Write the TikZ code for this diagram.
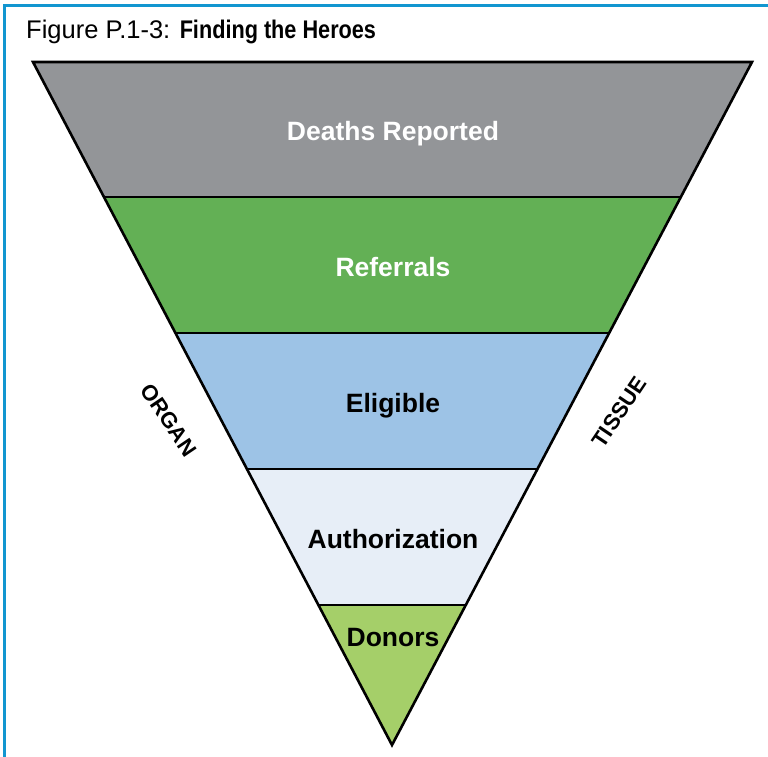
\documentclass[tikz,border=0pt]{standalone}
\usepackage{fontspec}
\setmainfont{Liberation Sans}
\usetikzlibrary{calc}
\definecolor{frameblue}{RGB}{18,150,208}
\definecolor{bandgray}{RGB}{147,149,152}
\definecolor{bandgreen}{RGB}{99,176,85}
\definecolor{bandblue}{RGB}{157,195,230}
\definecolor{bandpale}{RGB}{231,238,247}
\definecolor{bandlime}{RGB}{165,207,105}
\tikzset{
  bandlabel/.style={font=\fontsize{26.5}{30}\selectfont\bfseries, inner sep=0pt, anchor=base},
  sidelabel/.style={font=\fontsize{22}{24}\selectfont\bfseries, inner sep=0pt},
  bandline/.style={draw=black, line width=2pt},
}
\begin{document}
\begin{tikzpicture}[x=1pt,y=-1pt]
\useasboundingbox (0,0) rectangle (768,757);
% frame
\draw[frameblue, line width=3pt] (4.5,757) -- (4.5,5.5) -- (768,5.5);
% title
\node[anchor=base west, inner sep=0pt, font=\fontsize{25.5}{28}\selectfont] (title) at (26,38.5)
  {Figure P.1-3: \textbf{\scalebox{0.85}[1]{Finding the Heroes}}};
% triangle geometry
\coordinate (L0) at (33,62);
\coordinate (R0) at (752,62);
\coordinate (A) at (392,745);
\foreach \i/\t in {1/0.1977,2/0.3968,3/0.5959,4/0.7950}{
  \coordinate (L\i) at ($(L0)!\t!(A)$);
  \coordinate (R\i) at ($(R0)!\t!(A)$);
}
\fill[bandgray] (L0) -- (R0) -- (R1) -- (L1) -- cycle;
\fill[bandgreen] (L1) -- (R1) -- (R2) -- (L2) -- cycle;
\fill[bandblue] (L2) -- (R2) -- (R3) -- (L3) -- cycle;
\fill[bandpale] (L3) -- (R3) -- (R4) -- (L4) -- cycle;
\fill[bandlime] (L4) -- (R4) -- (A) -- cycle;
\foreach \i in {1,2,3,4}{ \draw[bandline] (L\i) -- (R\i); }
\draw[black, line width=2.6pt, line join=miter] (L0) -- (R0) -- (A) -- cycle;
% labels
\node[bandlabel, text=white] (deaths) at (393,140) {Deaths Reported};
\node[bandlabel, text=white] (referrals) at (393,276) {Referrals};
\node[bandlabel] (eligible) at (393,412) {Eligible};
\node[bandlabel] (auth) at (393,548) {Authorization};
\node[bandlabel] (donors) at (393,646) {Donors};
\node[sidelabel, rotate=-56] (organ) at (169,420) {ORGAN};
\node[sidelabel, rotate=56] (tissue) at (619,412) {TISSUE};
\end{tikzpicture}
\end{document}
